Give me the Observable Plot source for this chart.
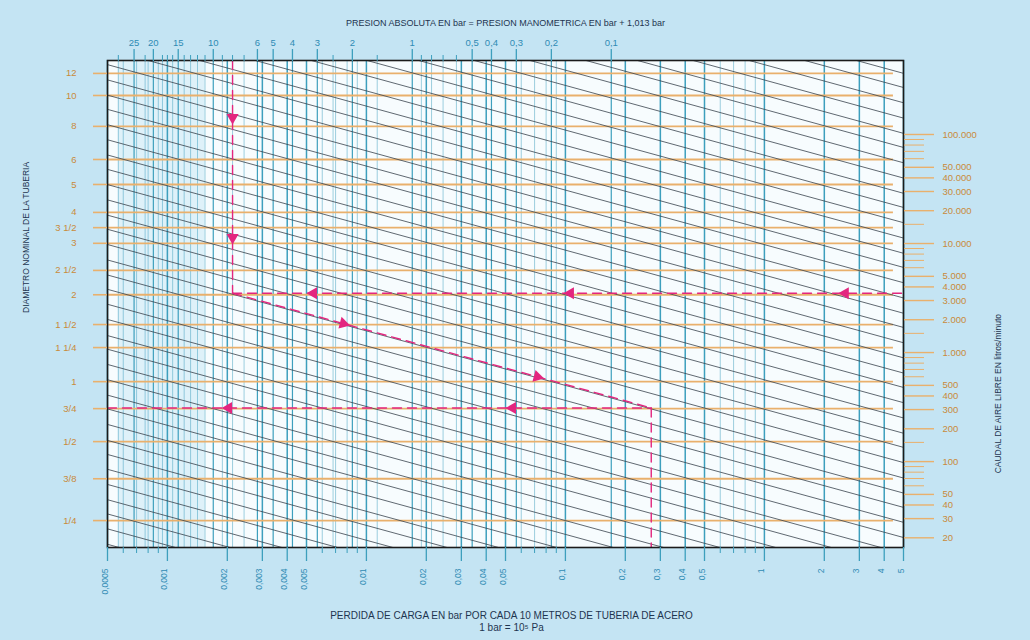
<!DOCTYPE html>
<html>
<head>
<meta charset="utf-8">
<script src="https://cdn.jsdelivr.net/npm/d3@7"></script>
<script src="https://cdn.jsdelivr.net/npm/@observablehq/plot@0.6"></script>
<style>
html,body{margin:0;padding:0;background:#c4e4f3;}
svg{display:block}
</style>
</head>
<body>
<div id="chart"></div>
<script>
// ---- Escala inferior: pérdida de carga (bar por cada 10 m) ----
const perdidaTicks = [0.0005,0.001,0.002,0.003,0.004,0.005,0.01,0.02,0.03,0.04,0.05,0.1,0.2,0.3,0.4,0.5,1,2,3,4,5];
const perdidaMenores = [0.0006,0.0007,0.0008,0.0009,0.006,0.007,0.008,0.009,0.06,0.07,0.08,0.09,0.6,0.7,0.8,0.9];

// ---- Escala superior: presión absoluta (bar) ----
const presionTicks = [25,20,15,10,6,5,4,3,2,1,0.5,0.4,0.3,0.2,0.1];
const presionMenores = [30,22,18,17,16,14,13,12,11,9,8,7,2.5,1.5,0.9,0.8,0.7,0.6];
const presionK = 0.017; // pérdida equivalente en la escala inferior = presionK / presión

// ---- Escala izquierda: diámetro nominal de la tubería ----
const diametroNominal = ["12","10","8","6","5","4","3 1/2","3","2 1/2","2","1 1/2","1 1/4","1","3/4","1/2","3/8","1/4"];
const diametroInterior = [11.90,10.0,7.84,6.04,4.96,3.98,3.53,3.12,2.52,2.08,1.645,1.372,1.049,0.848,0.654,0.488,0.351];
const diametroCoef = 476, diametroExp = 2.68; // caudal equivalente = coef * d^exp

// ---- Escala derecha: caudal de aire libre (l/min) ----
const caudalTicks = [100000,50000,40000,30000,20000,10000,5000,4000,3000,2000,1000,500,400,300,200,100,50,40,30,20];
const caudalMenores = [90000,80000,70000,60000,15000,9000,8000,7000,6000,1500,900,800,700,600,150,90,80,70,60];

// ---- Familia de rectas (caudal a 1 bar de pérdida) ----
const rectas = [0.39,0.54,0.74,1.0,1.38,1.9,2.6,3.5,4.9,6.8,9.1,12.6,17.4,24,32,45,62,85,115,158,219,302,407,562,776,1070,1450,2000,2750,3800,5130,7080,9770,13500,18200,25100,34700,47900,64600,89100,123000,170000,229000,316000,437000,603000,813000,1120000];

// ---- Ejemplo ----
const ejemploPresion = 8;      // bar absolutos
const ejemploCaudal = 3500;    // l/min
const ejemploPerdida = 0.27;   // bar / 10 m
const flechaX = [presionK/8, presionK/8, 0.00542, 0.106, 2.55, 0.00766, 0.0723, 0.00203, 0.0542];
const flechaQ = [143000, 11350, 3500, 3500, 3500, 1843, 600, 310, 310];
const flechaGiro = [180, 180, -90, -90, -90, 105, 105, -90, -90];

const xDom = [0.0005, 5];
const yDom = [16.3, 477000];

const teal = "#3d9fbd", orange = "#e9b06c", magenta = "#e3267f";
const labelOrange = "#c98a3a", labelTeal = "#2f8bb3", dark = "#1e3550";

const xEj = presionK / ejemploPresion;
const qFin = ejemploCaudal * Math.sqrt(xEj / ejemploPerdida);
const recorrido = [
  {s: "a", x: xEj, q: yDom[1]}, {s: "a", x: xEj, q: ejemploCaudal},
  {s: "b", x: xEj, q: ejemploCaudal}, {s: "b", x: xDom[1], q: ejemploCaudal},
  {s: "c", x: xEj, q: ejemploCaudal}, {s: "c", x: ejemploPerdida, q: qFin},
  {s: "d", x: ejemploPerdida, q: qFin}, {s: "d", x: ejemploPerdida, q: yDom[0]},
  {s: "e", x: xDom[0], q: qFin}, {s: "e", x: ejemploPerdida, q: qFin}
];
const flechas = flechaX.map((x, i) => ({x, q: flechaQ[i], r: flechaGiro[i]}));

const pipeQ = diametroInterior.map(d => diametroCoef * Math.pow(d, diametroExp));
const fmtComma = d => String(+(+d).toPrecision(6)).replace(".", ",");
const fmtMiles = d => d3.format(",")(d).replace(/,/g, ".");
const noText = () => "";

const chart = Plot.plot({
  width: 1030, height: 640,
  marginLeft: 107, marginRight: 127, marginTop: 60, marginBottom: 93,
  style: {background: "transparent", fontFamily: "'Liberation Sans', Arial, sans-serif"},
  x: {type: "log", domain: xDom},
  y: {type: "log", domain: yDom},
  marks: [
    Plot.frame({fill: "#f7fcfe"}),
    Plot.rectX([0], {x1: () => presionK/30, x2: () => presionK/11, fill: "#d3ecf7", fillOpacity: 0.7}),
    // vertical lines
    Plot.ruleX(perdidaMenores, {stroke: teal, strokeWidth: 0.7, strokeOpacity: 0.7}),
    Plot.ruleX(presionMenores, {x: p => presionK / p, stroke: teal, strokeWidth: 0.7, strokeOpacity: 0.7}),
    Plot.ruleX(perdidaTicks, {stroke: teal, strokeWidth: 1.5}),
    Plot.ruleX(presionTicks, {x: p => presionK / p, stroke: teal, strokeWidth: 1.2}),
    // pipe lines
    Plot.ruleY(pipeQ, {x1: () => xDom[0], x2: () => 4.45, stroke: orange, strokeWidth: 1.8}),
    // diagonals
    Plot.link(rectas, {x1: () => xDom[0], x2: () => xDom[1], y1: q => q * Math.sqrt(1 / xDom[0]), y2: q => q * Math.sqrt(1 / xDom[1]), stroke: "#38434d", strokeWidth: 0.8, clip: true}),
    // example path
    Plot.line(recorrido, {x: "x", y: "q", z: "s", stroke: magenta, strokeWidth: 1.4, strokeDasharray: "9,6", clip: true}),
    Plot.dot(flechas, {x: "x", y: "q", symbol: "triangle", r: 4.5, fill: magenta, rotate: "r"}),
    Plot.frame({stroke: "#1b1b1b", strokeWidth: 1.6}),
    // axis ticks (labels are drawn as text marks below)
    Plot.axisX({anchor: "bottom", ticks: perdidaTicks, tickSize: 14, tickFormat: noText, stroke: teal, strokeWidth: 1.3, label: null}),
    Plot.axisX({anchor: "bottom", ticks: perdidaMenores, tickSize: 6, tickFormat: noText, stroke: teal, label: null}),
    Plot.axisX({anchor: "top", ticks: presionTicks.map(p => presionK / p), tickSize: 12, tickFormat: noText, stroke: teal, strokeWidth: 1.3, label: null}),
    Plot.axisX({anchor: "top", ticks: presionMenores.map(p => presionK / p), tickSize: 6, tickFormat: noText, stroke: teal, label: null}),
    Plot.axisY({anchor: "left", ticks: pipeQ, tickSize: 14, tickFormat: noText, stroke: orange, strokeWidth: 1.6, label: null}),
    Plot.axisY({anchor: "right", ticks: caudalTicks, tickSize: 30, tickFormat: noText, stroke: orange, strokeWidth: 1.4, label: null}),
    Plot.axisY({anchor: "right", ticks: caudalMenores, tickSize: 20, tickFormat: noText, stroke: orange, strokeWidth: 1, label: null}),
    // tick labels
    Plot.text(perdidaTicks, {x: d => d, text: fmtComma, frameAnchor: "bottom", dy: 21, rotate: -90, textAnchor: "end", fontSize: 8.5, fill: labelTeal}),
    Plot.text(presionTicks, {x: p => presionK / p, text: fmtComma, frameAnchor: "top", dy: -21, fontSize: 9.5, fill: labelTeal}),
    Plot.text(diametroNominal, {y: (d, i) => pipeQ[i], text: d => d, frameAnchor: "left", dx: -31, textAnchor: "end", fontSize: 9.5, fill: labelOrange}),
    Plot.text(caudalTicks, {y: d => d, text: fmtMiles, frameAnchor: "right", dx: 39, textAnchor: "start", fontSize: 9.5, fill: labelOrange}),
    // titles
    Plot.text(["PRESION ABSOLUTA EN bar = PRESION MANOMETRICA EN bar + 1,013 bar"], {text: d => d, frameAnchor: "top", dy: -41, fontSize: 9, fill: dark}),
    Plot.text(["PERDIDA DE CARGA EN bar POR CADA 10 METROS DE TUBERIA DE ACERO"], {text: d => d, frameAnchor: "bottom", dx: 6, dy: 71, fontSize: 10, fill: dark}),
    Plot.text(["1 bar = 10⁵ Pa"], {text: d => d, frameAnchor: "bottom", dx: 6, dy: 83, fontSize: 10, fill: dark}),
    Plot.text(["DIAMETRO NOMINAL DE LA TUBERIA"], {text: d => d, frameAnchor: "left", dx: -81, dy: 9, rotate: -90, fontSize: 8.5, fill: dark}),
    Plot.text(["CAUDAL DE AIRE LIBRE EN litros/minuto"], {text: d => d, frameAnchor: "right", dx: 95, dy: 10, rotate: -90, fontSize: 8.5, fill: dark})
  ]
});
document.getElementById("chart").appendChild(chart);
</script>
</body>
</html>
